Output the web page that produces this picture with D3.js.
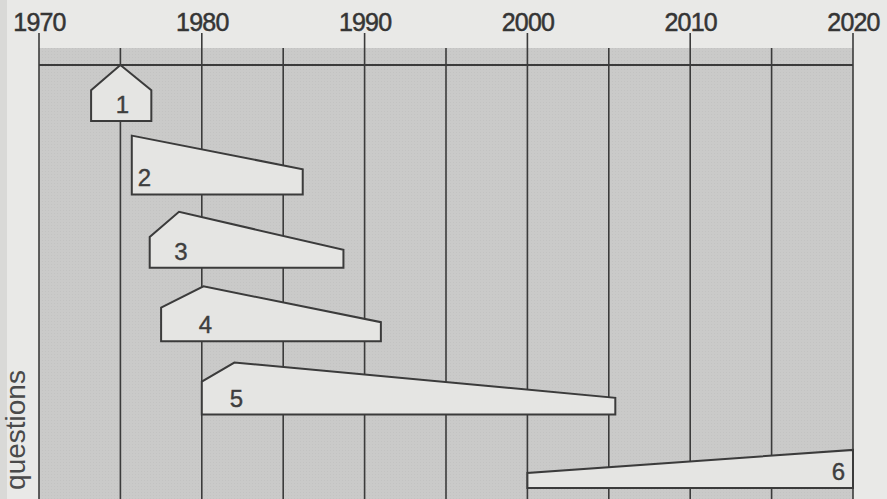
<!DOCTYPE html>
<html>
<head>
<meta charset="utf-8">
<script src="https://cdn.jsdelivr.net/npm/d3@7"></script>
<style>
  html, body { margin: 0; padding: 0; background: #e9e9e7; }
  svg { display: block; }
</style>
</head>
<body>
<svg id="chart" width="887" height="499"></svg>
<script>
// ---- data ----
const questions   = ["1", "2", "3", "4", "5", "6"];
const startYears  = [1973.2, 1975.7, 1976.8, 1977.5, 1980.0, 2000.0];
const peakYears   = [1975.0, 1975.7, 1978.6, 1980.1, 1982.0, 2020.0];
const endYears    = [1976.9, 1986.2, 1988.7, 1991.0, 2005.4, 2020.0];
const startLevels = [5.5, 10.5, 5.5, 6.0, 5.9, 2.7];
const peakLevels  = [10.0, 10.5, 10.0, 9.8, 9.3, 6.8];
const endLevels   = [5.5, 4.5, 3.2, 3.4, 3.0, 6.8];
const tickYears   = [1970, 1980, 1990, 2000, 2010, 2020];
const gridYears   = [1970, 1975, 1980, 1985, 1990, 1995, 2000, 2005, 2010, 2015, 2020];
const axisLabel   = "questions";

// ---- scales ----
const W = 887, H = 499;
const x = d3.scaleLinear().domain([1970, 2020]).range([39, 853]);
const row = d3.scaleLinear().domain([1, 6]).range([121, 488]);   // baseline of each question band
const lvl = d3.scaleLinear().domain([0, 10]).range([0, 56]);     // height of a shape

const svg = d3.select("#chart");
const ink = "#3b3b3b";
const font = "'Liberation Sans', Arial, sans-serif";

// scan edge strip
svg.append("rect").attr("x", 0).attr("y", 0).attr("width", 7).attr("height", H).attr("fill", "#d9d9d7");

// plot background
const plotTop = 48;
svg.append("rect")
  .attr("x", x(1970)).attr("y", plotTop)
  .attr("width", x(2020) - x(1970)).attr("height", H - plotTop)
  .attr("fill", "#cacac9");

// subtle halftone texture
const defs = svg.append("defs");
const pat = defs.append("pattern").attr("id", "dots").attr("width", 3).attr("height", 3)
  .attr("patternUnits", "userSpaceOnUse");
pat.append("rect").attr("width", 1).attr("height", 1).attr("fill", "#b9b9b8");
svg.append("rect")
  .attr("x", x(1970)).attr("y", plotTop)
  .attr("width", x(2020) - x(1970)).attr("height", H - plotTop)
  .attr("fill", "url(#dots)").attr("opacity", 0.4);

// grid lines
svg.append("g").selectAll("line").data(gridYears).join("line")
  .attr("x1", d => x(d)).attr("x2", d => x(d))
  .attr("y1", d => tickYears.includes(d) ? 33 : plotTop)
  .attr("y2", H)
  .attr("stroke", ink).attr("stroke-width", 1.6);

// horizontal axis line
svg.append("line")
  .attr("x1", x(1970)).attr("x2", x(2020))
  .attr("y1", 65).attr("y2", 65)
  .attr("stroke", ink).attr("stroke-width", 2.2);

// tick labels via axis
const axis = d3.axisTop(x).tickValues(tickYears).tickFormat(d3.format("d")).tickSize(0).tickPadding(0);
const gAxis = svg.append("g").attr("transform", "translate(0,31)").call(axis);
gAxis.select(".domain").remove();
gAxis.selectAll("text")
  .attr("dy", 0)
  .attr("fill", "#353535")
  .attr("stroke", "#353535")
  .attr("stroke-width", 0.5)
  .style("font-family", font)
  .style("font-size", "25px")
  .style("letter-spacing", "-0.8px");

// shapes
const shapes = questions.map((q, i) => ({
  q, i: i + 1,
  s: startYears[i], p: peakYears[i], e: endYears[i],
  hs: startLevels[i], hp: peakLevels[i], he: endLevels[i]
}));

const g = svg.append("g");
g.selectAll("path").data(shapes).join("path")
  .attr("d", d => {
    const yb = row(d.i);
    const pts = [
      [x(d.s), yb],
      [x(d.s), yb - lvl(d.hs)],
      [x(d.p), yb - lvl(d.hp)],
      [x(d.e), yb - lvl(d.he)],
      [x(d.e), yb]
    ];
    return d3.line()(pts) + "Z";
  })
  .attr("fill", "#e5e5e3")
  .attr("stroke", ink)
  .attr("stroke-width", 2)
  .attr("stroke-linejoin", "miter");

g.selectAll("text").data(shapes).join("text")
  .attr("x", d => d.p === d.s ? x(d.s) + 6 : (d.p === d.e ? x(d.e) - 8 : x(d.p) + 2))
  .attr("y", d => row(d.i) - 8)
  .attr("text-anchor", d => d.p === d.s ? "start" : (d.p === d.e ? "end" : "middle"))
  .attr("fill", "#3e3e3e")
  .attr("stroke", "#3e3e3e")
  .attr("stroke-width", 0.4)
  .style("font-family", font)
  .style("font-size", "24px")
  .text(d => d.q);

// y label
svg.append("text")
  .attr("transform", "translate(25,430) rotate(-90)")
  .attr("text-anchor", "middle")
  .attr("fill", "#4a4a4a")
  .style("font-family", font)
  .style("font-size", "28px")
  .text(axisLabel);
</script>
</body>
</html>
